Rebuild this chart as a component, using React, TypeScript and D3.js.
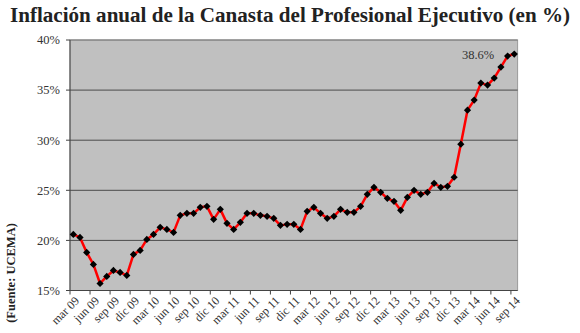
import React from "react";
import * as d3 from "d3";

const months = ["ene", "feb", "mar", "abr", "may", "jun", "jul", "ago", "sep", "oct", "nov", "dic"];
// monthly categories from mar 09 to sep 14
const categories: string[] = [];
for (let y = 2009; y <= 2014; y++) {
  for (let m = 0; m < 12; m++) {
    if (y === 2009 && m < 2) continue;
    if (y === 2014 && m > 8) continue;
    categories.push(`${months[m]} ${String(y).slice(2)}`);
  }
}

const values = [
  20.6, 20.3, 18.8, 17.6, 15.7, 16.4, 17.0, 16.8, 16.5, 18.6,
  19.0, 20.1, 20.6, 21.3, 21.1, 20.8, 22.5, 22.7, 22.7, 23.3,
  23.4, 22.1, 23.1, 21.7, 21.1, 21.8, 22.7, 22.7, 22.5, 22.4,
  22.2, 21.5, 21.6, 21.6, 21.1, 22.9, 23.3, 22.7, 22.2, 22.4,
  23.1, 22.8, 22.8, 23.4, 24.6, 25.3, 24.8, 24.2, 23.9, 23.0,
  24.3, 25.0, 24.6, 24.8, 25.7, 25.3, 25.4, 26.3, 29.6, 33.0,
  34.0, 35.7, 35.5, 36.2, 37.3, 38.4, 38.6,
];

const yTicks = [15, 20, 25, 30, 35, 40];
const title = "Inflación anual de la Canasta del Profesional Ejecutivo (en %)";
const sourceLabel = "(Fuente: UCEMA)";
const annotation = "38.6%";

export default function App() {
  const W = 580;
  const H = 333;
  const x0 = 70;
  const x1 = 517.6;
  const yTop = 40;
  const yBot = 290.5;

  const x = d3.scaleBand<string>().domain(categories).range([x0, x1]).paddingInner(0).paddingOuter(0);
  const y = d3.scaleLinear().domain([15, 40]).range([yBot, yTop]);
  const cx = (c: string) => (x(c) as number) + x.bandwidth() / 2;

  const line = d3
    .line<number>()
    .x((_, i) => cx(categories[i]))
    .y((d) => y(d));

  const tickCats = categories.filter((_, i) => i % 3 === 0);
  const serif = "Liberation Serif, Times New Roman, serif";
  const last = values.length - 1;

  return (
    <svg width={W} height={H} style={{ position: "absolute", left: 0, top: 0, background: "#fff" }}>
      <text
        x={W / 2}
        y={22}
        textAnchor="middle"
        style={{ fontFamily: serif }}
        fontWeight="bold"
        fontSize={20}
        fill="#222"
        textLength={560}
        lengthAdjust="spacingAndGlyphs"
      >
        {title}
      </text>

      <rect x={x0} y={yTop} width={x1 - x0} height={yBot - yTop} fill="#c0c0c0" stroke="#999" strokeWidth={1} />

      {yTicks.map((t) => (
        <g key={t}>
          {t !== 15 && t !== 40 && (
            <line x1={x0} x2={x1} y1={y(t)} y2={y(t)} stroke="#4a4a4a" strokeWidth={1} />
          )}
          <line x1={x0 - 4} x2={x0} y1={y(t)} y2={y(t)} stroke="#444" strokeWidth={1} />
          <text x={60} y={y(t)} dy="0.35em" textAnchor="end" style={{ fontFamily: serif }} fontSize={12.5} fill="#333">
            {`${t}%`}
          </text>
        </g>
      ))}
      <line x1={x0} x2={x1} y1={yTop} y2={yTop} stroke="#777" strokeWidth={1} />

      <line x1={x0} x2={x0} y1={yTop} y2={yBot} stroke="#444" strokeWidth={1} />
      <line x1={x0} x2={x1} y1={yBot} y2={yBot} stroke="#444" strokeWidth={1} />

      {tickCats.map((c) => {
        const tx = x(c) as number;
        return (
          <g key={c}>
            <line x1={tx} x2={tx} y1={yBot} y2={yBot + 4} stroke="#444" strokeWidth={1} />
            <text
              transform={`translate(${tx + 4},${yBot + 5}) rotate(-45)`}
              textAnchor="end"
              dy="0.7em"
              style={{ fontFamily: serif }}
              fontSize={12}
              fill="#333"
            >
              {c}
            </text>
          </g>
        );
      })}

      <path d={line(values) || ""} fill="none" stroke="#ff0000" strokeWidth={2.5} strokeLinejoin="round" />
      {values.map((v, i) => {
        const px = cx(categories[i]);
        const py = y(v);
        const r = 3.6;
        return (
          <path
            key={i}
            d={`M${px},${py - r}L${px + r},${py}L${px},${py + r}L${px - r},${py}Z`}
            fill="#000"
          />
        );
      })}

      <text
        x={cx(categories[last]) - 20}
        y={y(values[last]) + 5}
        textAnchor="end"
        style={{ fontFamily: serif }}
        fontSize={12.5}
        fill="#333"
      >
        {annotation}
      </text>

      <text
        transform={`translate(15,273) rotate(-90)`}
        textAnchor="middle"
        style={{ fontFamily: serif }}
        fontWeight="bold"
        fontSize={12.5}
        fill="#222"
      >
        {sourceLabel}
      </text>
    </svg>
  );
}
